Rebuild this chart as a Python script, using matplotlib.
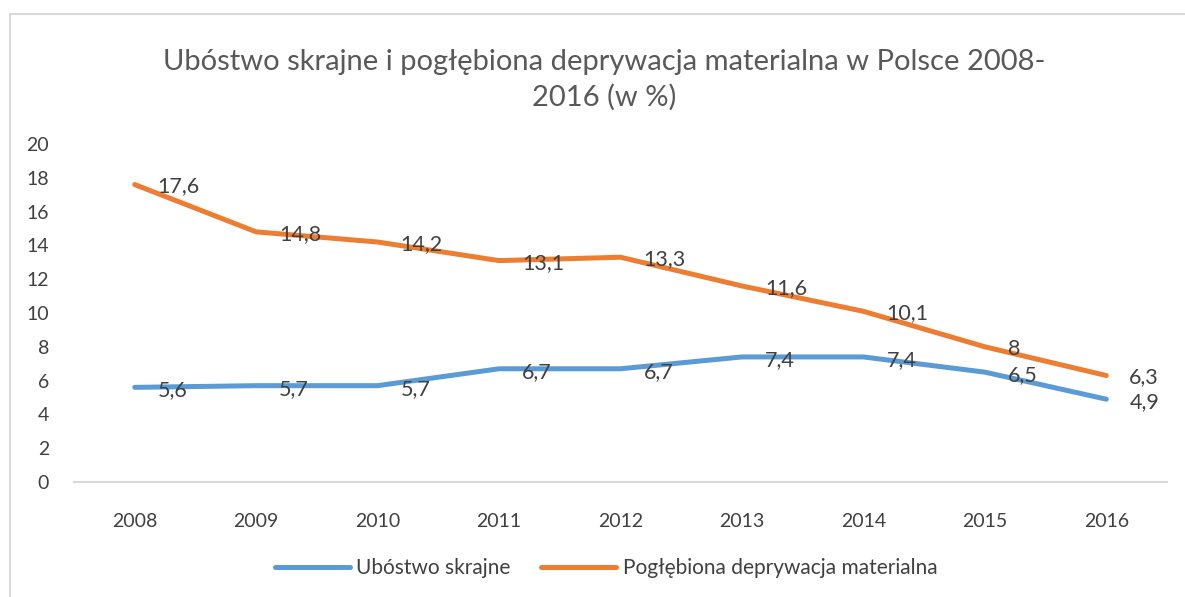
import matplotlib.pyplot as plt
from matplotlib.patches import Rectangle

# data
years = ["2008", "2009", "2010", "2011", "2012", "2013", "2014", "2015", "2016"]
ubostwo = [5.6, 5.7, 5.7, 6.7, 6.7, 7.4, 7.4, 6.5, 4.9]
deprywacja = [17.6, 14.8, 14.2, 13.1, 13.3, 11.6, 10.1, 8.0, 6.3]
labels_ub = ["5,6", "5,7", "5,7", "6,7", "6,7", "7,4", "7,4", "6,5", "4,9"]
labels_dep = ["17,6", "14,8", "14,2", "13,1", "13,3", "11,6", "10,1", "8", "6,3"]
yticks = [0, 2, 4, 6, 8, 10, 12, 14, 16, 18, 20]

plt.rcParams['font.family'] = ['Lato', 'DejaVu Sans']
text_col = "#404040"

W, H = 1185, 597
fig = plt.figure(figsize=(W / 100, H / 100), dpi=100)

# chart border
fig.patches.append(Rectangle((10 / W, -0.1), 1.2, 1 - 14 / H + 0.1,
                             transform=fig.transFigure, fill=False,
                             edgecolor="#D9D9D9", linewidth=1.5))

ax = fig.add_axes([74 / W, 1 - 482 / H, (1167 - 74) / W, (482 - 144) / H])
x = list(range(len(years)))

l1, = ax.plot(x, ubostwo, color="#5B9BD5", linewidth=3.6, solid_capstyle="round",
              label="Ubóstwo skrajne")
l2, = ax.plot(x, deprywacja, color="#ED7D31", linewidth=3.6, solid_capstyle="round",
              label="Pogłębiona deprywacja materialna")

for xi, v, t in zip(x, ubostwo, labels_ub):
    ax.annotate(t, (xi, v), xytext=(23, -3), textcoords="offset pixels",
                ha="left", va="center", fontsize=15.5, color=text_col)
for xi, v, t in zip(x, deprywacja, labels_dep):
    ax.annotate(t, (xi, v), xytext=(23, -2), textcoords="offset pixels",
                ha="left", va="center", fontsize=15.5, color=text_col)

ax.set_xlim(-0.5, len(years) - 0.5)
ax.set_ylim(0, 20)
ax.set_xticks(x)
ax.set_xticklabels(years)
ax.set_yticks(yticks)
ax.tick_params(axis="both", length=0, labelsize=14, labelcolor=text_col)
ax.tick_params(axis="y", pad=18)
ax.tick_params(axis="x", pad=22)
for s in ["top", "right", "left"]:
    ax.spines[s].set_visible(False)
ax.spines["bottom"].set_color("#D9D9D9")
ax.spines["bottom"].set_linewidth(1.5)

fig.text(604 / W, 1 - 80 / H,
         "Ubóstwo skrajne i pogłębiona deprywacja materialna w Polsce 2008-\n2016 (w %)",
         ha="center", va="center", fontsize=21, color="#595959", linespacing=1.4)

fig.legend(handles=[l1, l2], loc="center", bbox_to_anchor=(606 / W, 1 - 568 / H),
           ncol=2, frameon=False, fontsize=15, labelcolor=text_col,
           handlelength=3.6, columnspacing=1.5, handletextpad=0.3)

fig.savefig("out.png", dpi=100)
